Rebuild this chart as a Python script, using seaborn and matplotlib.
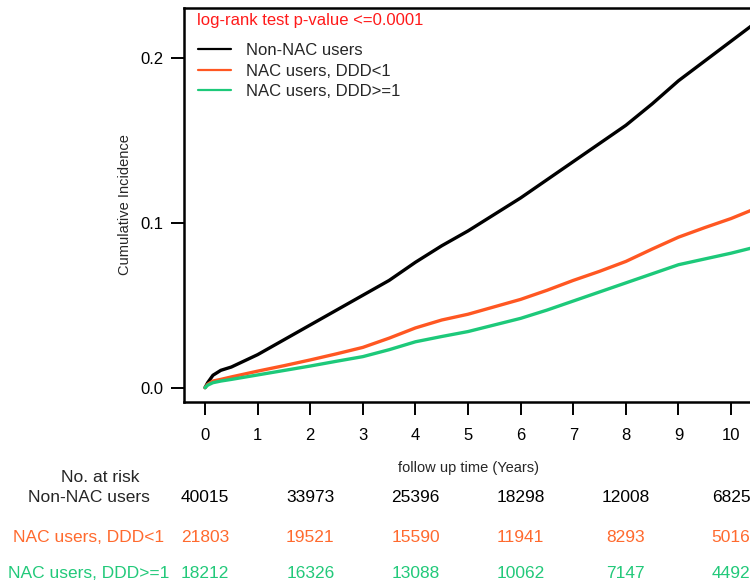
import numpy as np
import pandas as pd
import seaborn as sns
from matplotlib import pyplot as plt
from matplotlib import transforms

# follow-up time grid (years) and cumulative incidence
times = [0, 0.05, 0.15, 0.3, 0.5, 1, 1.5, 2, 2.5, 3, 3.5, 4, 4.5, 5, 5.5,
         6, 6.5, 7, 7.5, 8, 8.5, 9, 9.5, 10, 10.5, 11]
non_nac = [0, 0.003, 0.0075, 0.0105, 0.0125, 0.020, 0.029, 0.038, 0.047, 0.056,
           0.065, 0.076, 0.086, 0.095, 0.105, 0.115, 0.126, 0.137, 0.148, 0.159,
           0.172, 0.186, 0.198, 0.210, 0.222, 0.234]
nac_low = [0, 0.002, 0.004, 0.005, 0.0065, 0.0100, 0.0133, 0.0168, 0.0205, 0.0244,
           0.030, 0.0362, 0.041, 0.0445, 0.049, 0.0535, 0.059, 0.065, 0.0705, 0.0765,
           0.084, 0.0912, 0.097, 0.1025, 0.109, 0.115]
nac_high = [0, 0.0015, 0.003, 0.004, 0.005, 0.0077, 0.0104, 0.0131, 0.016, 0.0188,
            0.023, 0.0278, 0.031, 0.0340, 0.038, 0.0420, 0.047, 0.0525, 0.058, 0.0635,
            0.069, 0.0745, 0.078, 0.0815, 0.0855, 0.090]

groups = ["Non-NAC users", "NAC users, DDD<1", "NAC users, DDD>=1"]
colors = ["#000000", "#FF5722", "#1DC97A"]

# numbers at risk
risk_times = [0, 2, 4, 6, 8, 10]
risk_non_nac = [40015, 33973, 25396, 18298, 12008, 6825]
risk_nac_low = [21803, 19521, 15590, 11941, 8293, 5016]
risk_nac_high = [18212, 16326, 13088, 10062, 7147, 4492]

sns.set_style("ticks")
plt.rcParams['font.family'] = ['Liberation Sans', 'DejaVu Sans']

df = pd.DataFrame({
    "time": times * 3,
    "ci": non_nac + nac_low + nac_high,
    "group": [groups[0]] * len(times) + [groups[1]] * len(times) + [groups[2]] * len(times),
})

W, H = 750, 583
fig = plt.figure(figsize=(W / 100, H / 100), dpi=100)
# axes right edge runs past the figure, like the cropped original
ax = fig.add_axes([184 / W, (H - 402) / H, (790 - 184) / W, (402 - 8) / H])

sns.lineplot(data=df, x="time", y="ci", hue="group", palette=colors,
             hue_order=groups, linewidth=2.4, ax=ax, legend=True)

ax.set_xlim(-0.40, 11.12)
ax.set_ylim(-0.0087, 0.2301)
ax.set_xticks(range(0, 11))
ax.set_yticks([0.0, 0.1, 0.2])
ax.set_yticklabels(["0.0", "0.1", "0.2"])
ax.tick_params(axis="both", labelsize=12, length=9.5, width=1.4, pad=5, colors="black")
ax.tick_params(axis="x", pad=9)
for sp in ax.spines.values():
    sp.set_linewidth(1.8)
    sp.set_color("black")
ax.set_xlabel("")
ax.set_ylabel("Cumulative Incidence", fontsize=10.5, labelpad=6)

# legend
handles, labels = ax.get_legend_handles_labels()
for h in handles:
    h.set_linewidth(1.6)
ax.legend(handles, labels, loc="upper left", bbox_to_anchor=(198 / W, 1 - 43 / H),
          bbox_transform=fig.transFigure, frameon=False, fontsize=12,
          handlelength=1.95, handletextpad=0.9, labelspacing=0.33,
          borderpad=0, borderaxespad=0)

fig.text(197 / W, 1 - 20 / H, "log-rank test p-value <=0.0001", color="#FF1A1A",
         fontsize=12, va="center", ha="left")

# x label sits under the tick labels, above the risk table
fig.text(468 / W, 1 - 468 / H, "follow up time (Years)", fontsize=10.5,
         family=['Liberation Sans Narrow', 'Liberation Sans', 'DejaVu Sans'],
         ha="center", va="center")

# risk table
trans = transforms.blended_transform_factory(ax.transData, fig.transFigure)
rows = [(risk_non_nac, colors[0], 497), (risk_nac_low, "#FF6A2E", 537),
        (risk_nac_high, "#22C97A", 573)]
for vals, col, ypx in rows:
    for t, v in zip(risk_times, vals):
        ax.text(t, 1 - ypx / H, str(v), transform=trans, color=col, fontsize=12.5,
                ha="center", va="center", clip_on=False)

fig.text(100 / W, 1 - 478 / H, "No. at risk", fontsize=12.5, ha="center", va="center")
fig.text(89 / W, 1 - 497 / H, groups[0], fontsize=12.5, ha="center", va="center")
fig.text(89 / W, 1 - 537 / H, groups[1], fontsize=12.5, ha="center", va="center",
         color="#FF6A2E")
fig.text(89 / W, 1 - 573 / H, groups[2], fontsize=12.5, ha="center", va="center",
         color="#22C97A")

fig.savefig("out.png", dpi=100)
